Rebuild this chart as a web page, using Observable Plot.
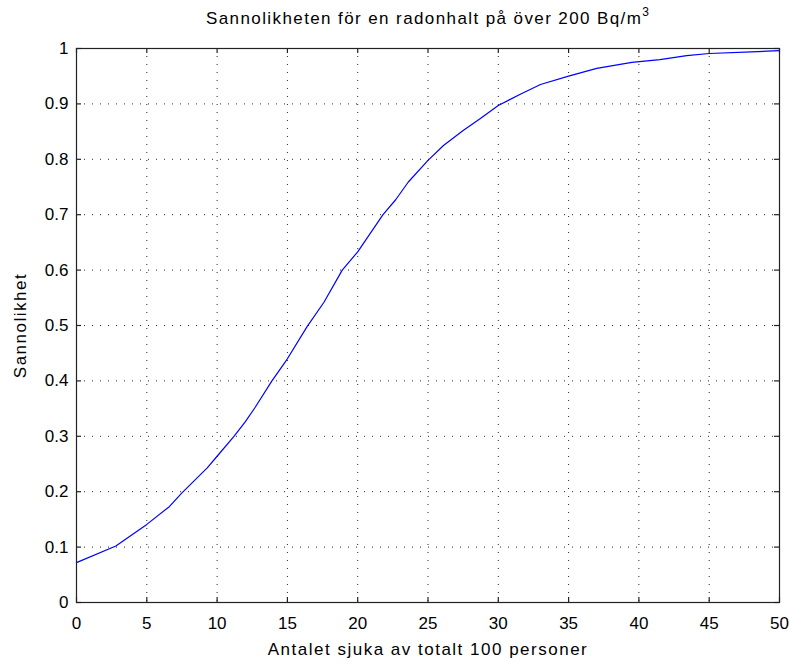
<!DOCTYPE html>
<html><head><meta charset="utf-8">
<script src="https://cdn.jsdelivr.net/npm/d3@7"></script>
<script src="https://cdn.jsdelivr.net/npm/@observablehq/plot@0.6"></script>
<style>
body{margin:0;background:#fff;font-family:"Liberation Sans",Arial,sans-serif;}
#title{box-sizing:border-box;height:36px;padding:6px 12px 0 76px;text-align:center;font-size:17px;letter-spacing:1.4px;color:#000;white-space:nowrap;}
#title sup{font-size:12px;position:relative;top:-1px;letter-spacing:0;}
svg{display:block;}
</style></head><body>
<div id="title"></div>
<div id="chart"></div>
<script>
const xValues = [0, 2.8, 5, 6.6, 7.5, 9.3, 10, 11.2, 12, 12.7, 13.9, 14.9, 16.4, 17.6, 18.9, 20, 21.8, 22.7, 23.6, 25, 26.1, 27.5, 28.7, 30, 31.6, 33, 35, 37, 39.5, 41.5, 43.4, 45, 48, 50];
const yValues = [0.072, 0.102, 0.141, 0.173, 0.198, 0.243, 0.264, 0.300, 0.326, 0.352, 0.400, 0.436, 0.498, 0.542, 0.600, 0.633, 0.700, 0.727, 0.759, 0.798, 0.825, 0.852, 0.873, 0.897, 0.918, 0.935, 0.950, 0.964, 0.975, 0.980, 0.987, 0.991, 0.994, 0.996];
const xTicks = [0, 5, 10, 15, 20, 25, 30, 35, 40, 45, 50];
const yTicks = [0, 0.1, 0.2, 0.3, 0.4, 0.5, 0.6, 0.7, 0.8, 0.9, 1];
const yTickLabels = ["0", "0.1", "0.2", "0.3", "0.4", "0.5", "0.6", "0.7", "0.8", "0.9", "1"];
const titleText = "Sannolikheten för en radonhalt på över 200 Bq/m";
const titleSup = "3";
const xLabel = "Antalet sjuka av totalt 100 personer";
const yLabel = "Sannolikhet";

const data = xValues.map((x, i) => ({x, y: yValues[i]}));

const title = document.getElementById("title");
title.append(titleText);
const sup = document.createElement("sup");
sup.textContent = titleSup;
title.append(sup);

const W = 791, H = 630, mT = 12, mB = 64, mL = 76, mR = 12;
const innerW = W - mL - mR, innerH = H - mT - mB;
const tickLen = 5;
const grid = {stroke: "#000", strokeWidth: 1, strokeDasharray: "1,7", strokeOpacity: 0.85};
const tickStyle = {stroke: "#222", strokeWidth: 1.2};
const labelStyle = {fontSize: 17, fill: "#000", style: "letter-spacing:1.5px"};

const chart = Plot.plot({
  width: W, height: H,
  marginTop: mT, marginBottom: mB, marginLeft: mL, marginRight: mR,
  style: {fontFamily: "'Liberation Sans', Arial, sans-serif", color: "#000", background: "#fff"},
  x: {domain: [0, 50]},
  y: {domain: [0, 1]},
  marks: [
    Plot.ruleX(xTicks.slice(1, -1), grid),
    Plot.ruleY(yTicks.slice(1, -1), grid),
    Plot.line(data, {x: "x", y: "y", stroke: "#0000ff", strokeWidth: 1.2}),
    Plot.frame({stroke: "#222", strokeWidth: 1.2}),
    Plot.ruleX(xTicks, {...tickStyle, insetTop: innerH - tickLen}),
    Plot.ruleX(xTicks, {...tickStyle, insetBottom: innerH - tickLen}),
    Plot.ruleY(yTicks, {...tickStyle, insetRight: innerW - tickLen}),
    Plot.ruleY(yTicks, {...tickStyle, insetLeft: innerW - tickLen}),
    Plot.axisX({ticks: xTicks, tickSize: 0, tickPadding: 14, fontSize: 17, label: null}),
    Plot.axisY({ticks: yTicks, tickSize: 0, tickPadding: 8, fontSize: 17, label: null,
      tickFormat: d => yTickLabels[yTicks.indexOf(d)]}),
    Plot.text([xLabel], {frameAnchor: "bottom", dy: 52, fontSize: 17, fill: "#000"}),
    Plot.text([yLabel], {frameAnchor: "left", textAnchor: "middle", dx: -56, rotate: -90, fontSize: 17, fill: "#000"})
  ]
});
chart.querySelectorAll("text").forEach(t => {
  const s = t.textContent;
  if (s === xLabel || s === yLabel) t.style.letterSpacing = "1.5px";
});
document.getElementById("chart").append(chart);
</script>
</body></html>
